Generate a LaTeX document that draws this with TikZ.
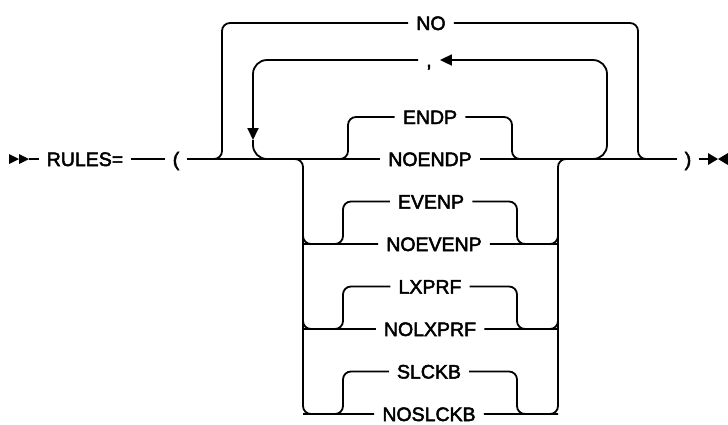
\documentclass[tikz,border=0pt]{standalone}
\usepackage{fontspec}
\setmainfont{Liberation Sans}
\newfontfamily\railfamily{Liberation Sans}[FakeBold=2.5]
\usetikzlibrary{arrows.meta,calc}

\newcommand{\railfont}{\railfamily\fontsize{19.5}{22}\selectfont}

\begin{document}
\begin{tikzpicture}[
	x=1pt, y=-1pt,
	% Node styles
	keyword/.style={
		font=\railfont,
		inner xsep=8pt,
		inner ysep=0pt,
		text height=14pt,
		text depth=0pt
	},
	rail/.style={
		line width=1.8pt,
		rounded corners=8pt
	},
	repeatrail/.style={
		line width=1.8pt,
		rounded corners=14pt
	},
	looparrow/.style={
		-{Triangle[length=12pt,width=11pt]}
	}
	]
	
	\useasboundingbox (0,0) rectangle (728,424);
	
	% Columns of the verticals
	\coordinate (colNOl) at (222,0);
	\coordinate (colNOr) at (638,0);
	\coordinate (colRPl) at (253,0);
	\coordinate (colRPr) at (607,0);
	\coordinate (colGl) at (303,0);
	\coordinate (colGr) at (558,0);
	\coordinate (colEl) at (348,0);
	\coordinate (colEr) at (512,0);
	\coordinate (colIl) at (343,0);
	\coordinate (colIr) at (517,0);
	
	% Start and end of the main line
	\coordinate (begin) at (29,159);
	\coordinate (finish) at (708,159);
	\coordinate (rptTip) at (253,140);
	\fill (9,154) -- (19,159) -- (9,164) -- cycle;
	\fill (19,154) -- (29,159) -- (19,164) -- cycle;
	\fill (708,153) -- (718,159) -- (708,165) -- cycle;
	\fill (728,153) -- (718,159) -- (728,165) -- cycle;
	
	% Keywords
	\node[keyword] (rules) at (85,159) {RULES=};
	\node[keyword] (lpar) at (176,159) {(};
	\node[keyword] (no) at (431,23) {NO};
	\node[keyword] (comma) at (429,60) {,};
	\node[keyword] (endp) at (430,117) {ENDP};
	\node[keyword] (noendp) at (430,159) {NOENDP};
	\node[keyword] (evenp) at (431,201.5) {EVENP};
	\node[keyword] (noevenp) at (434,244) {NOEVENP};
	\node[keyword] (lxprf) at (430,286.5) {LXPRF};
	\node[keyword] (nolxprf) at (430,329) {NOLXPRF};
	\node[keyword] (slckb) at (429,371.5) {SLCKB};
	\node[keyword] (noslckb) at (429,414) {NOSLCKB};
	\node[keyword] (rpar) at (688,159) {)};
	
	% Main line
	\draw[rail] (begin) -- (rules.west);
	\draw[rail] (rules.east) -- (lpar.west);
	\draw[rail] (lpar.east) -- (noendp.west);
	\draw[rail] (noendp.east) -- (rpar.west);
	\draw[rail] (rpar.east) -- (finish);
	
	% NO bypass
	\draw[rail] (lpar.east) -| (colNOl |- no.west) -- (no.west);
	\draw[rail] (no.east) -| (colNOr |- rpar.west) -- (rpar.west);
	
	% Repeat loop
	\draw[repeatrail, looparrow] (colGr |- noendp.east) -| (colRPr |- comma.east) -- (comma.east);
	\draw[repeatrail, looparrow] (comma.west) -| (rptTip);
	\draw[repeatrail] (rptTip) |- (colGl |- noendp.west);
	
	% Outer choice
	\draw[rail] (colRPl |- noendp.west) -| (colGl |- noslckb.west) -- (noslckb.west);
	\draw[rail] (noslckb.east) -| (colGr |- noendp.east) -- (colRPr |- noendp.east);
	\draw[rail] (colGl |- evenp.west) |- (noevenp.west);
	\draw[rail] (noevenp.east) -| (colGr |- evenp.east);
	\draw[rail] (colGl |- lxprf.west) |- (nolxprf.west);
	\draw[rail] (nolxprf.east) -| (colGr |- lxprf.east);
	
	% Inner choices
	\draw[rail] (colGl |- noendp.west) -| (colEl |- endp.west) -- (endp.west);
	\draw[rail] (endp.east) -| (colEr |- noendp.east) -- (colGr |- noendp.east);
	\draw[rail] (colGl |- noevenp.west) -| (colIl |- evenp.west) -- (evenp.west);
	\draw[rail] (evenp.east) -| (colIr |- noevenp.east) -- (colGr |- noevenp.east);
	\draw[rail] (colGl |- nolxprf.west) -| (colIl |- lxprf.west) -- (lxprf.west);
	\draw[rail] (lxprf.east) -| (colIr |- nolxprf.east) -- (colGr |- nolxprf.east);
	\draw[rail] (colGl |- noslckb.west) -| (colIl |- slckb.west) -- (slckb.west);
	\draw[rail] (slckb.east) -| (colIr |- noslckb.east) -- (colGr |- noslckb.east);
	
\end{tikzpicture}
\end{document}
